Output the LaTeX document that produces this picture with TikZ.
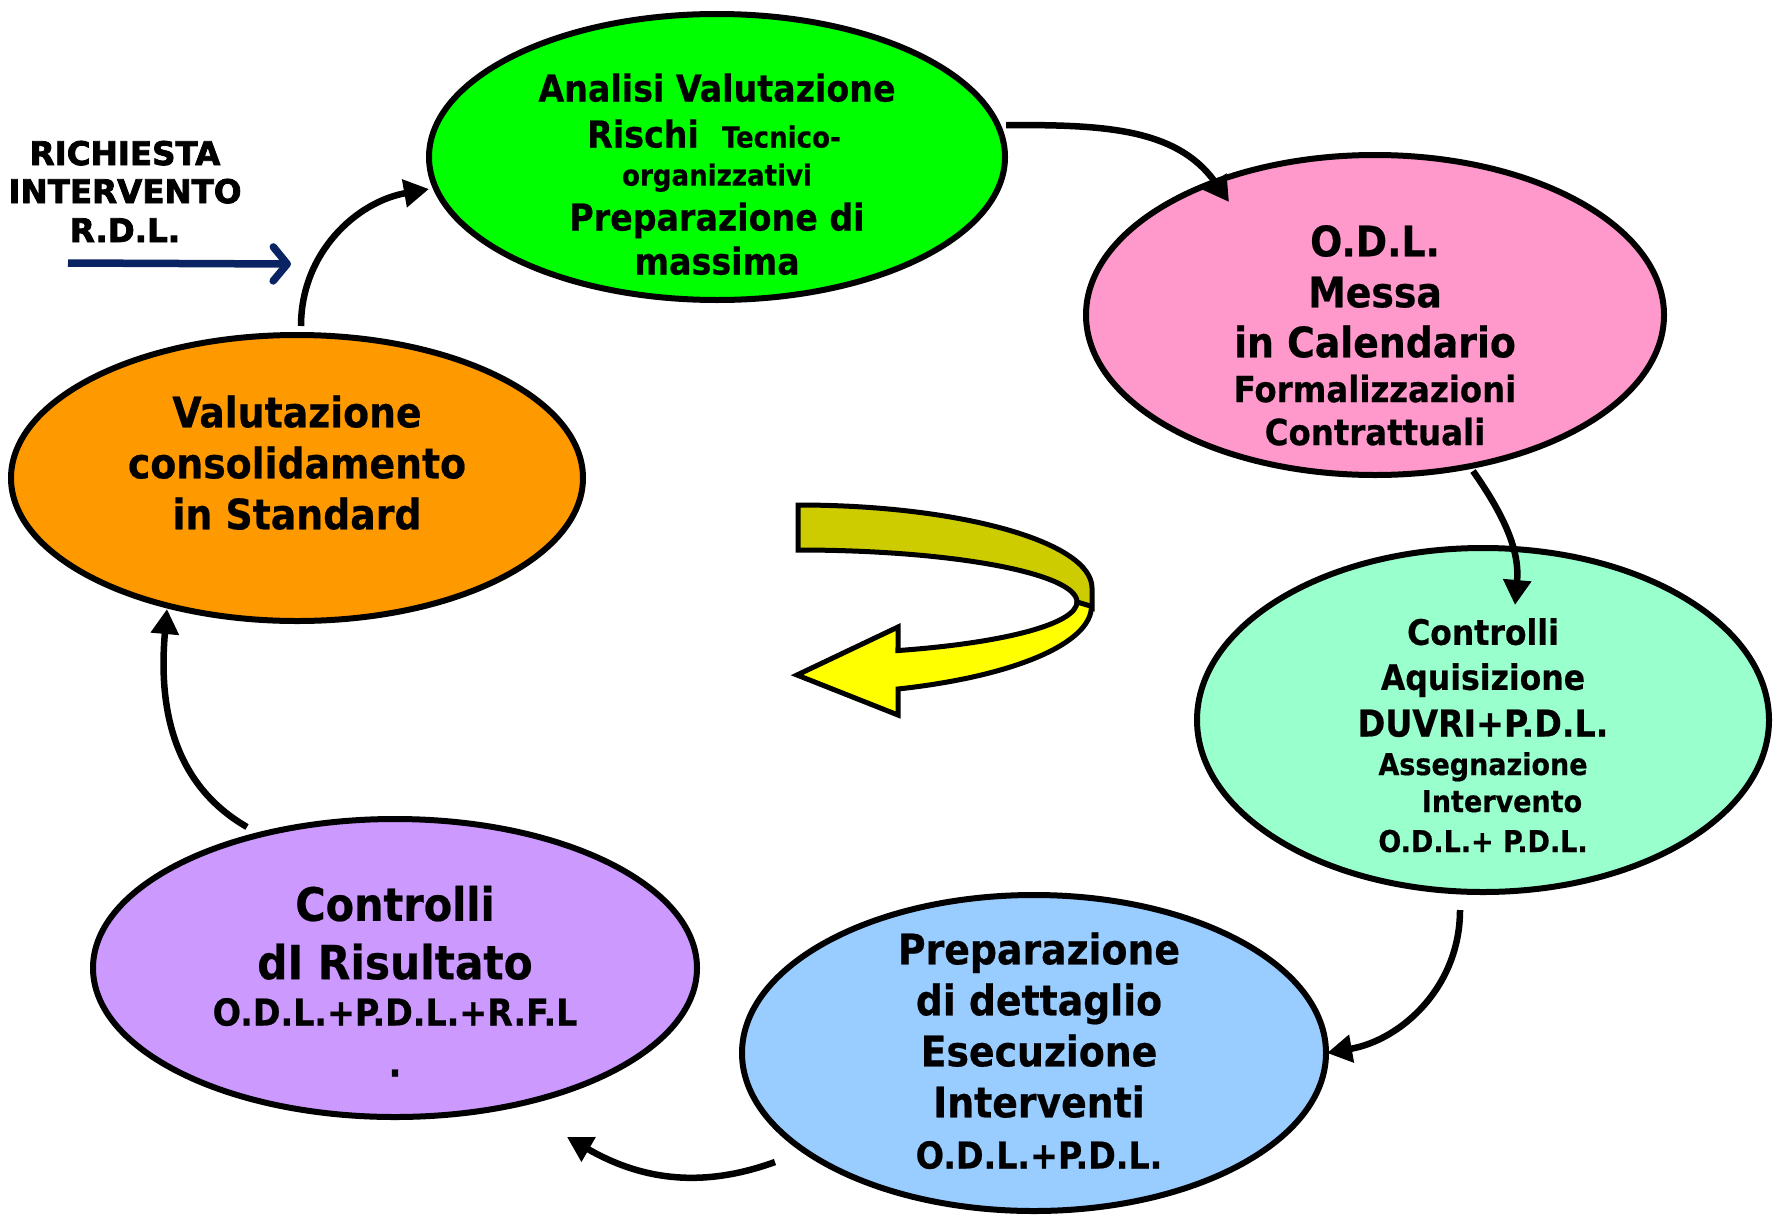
\documentclass[tikz,border=0pt]{standalone}
\usepackage{fontspec}
\setmainfont{DejaVu Sans Condensed}[BoldFont={DejaVu Sans Condensed Bold}, BoldFeatures={FakeBold=0.5}]
\newfontfamily\heavyfont{DejaVu Sans}[BoldFont={DejaVu Sans Bold}, BoldFeatures={FakeBold=2.5}]
\usetikzlibrary{shapes.geometric,arrows.meta,calc}

\definecolor{fasegreen}{HTML}{00FF00}
\definecolor{fasepink}{HTML}{FF99CC}
\definecolor{fasemint}{HTML}{99FFCC}
\definecolor{faseblue}{HTML}{99CCFF}
\definecolor{faseviolet}{HTML}{CC99FF}
\definecolor{faseorange}{HTML}{FF9900}
\definecolor{giroyellow}{HTML}{FFFF00}
\definecolor{giroolive}{HTML}{CCCC00}
\definecolor{rdlnavy}{HTML}{0A2463}

\tikzset{
  fase/.style={ellipse, draw, line width=6pt, inner sep=0pt},
  flusso/.style={line width=6.5pt, -{Triangle[length=25pt,width=27pt]}},
  riga/.style={anchor=base, inner sep=0pt, font=\bfseries\fontsize{#1}{#1}\selectfont},
  rdl/.style={anchor=base, inner sep=0pt, font=\heavyfont\bfseries\fontsize{32.5}{32.5}\selectfont},
}

\begin{document}
\begin{tikzpicture}[x=1pt, y=1pt]
  \useasboundingbox (0,0) rectangle (1779,-1215);

  % fasi del ciclo
  \node[fase, fill=fasegreen, minimum width=576pt, minimum height=286pt] (analisi) at (717,-157) {};
  \node[fase, fill=fasepink, minimum width=578pt, minimum height=320pt] (odl) at (1375,-315) {};
  \node[fase, fill=fasemint, minimum width=572pt, minimum height=344pt] (controlli) at (1483,-720) {};
  \node[fase, fill=faseblue, minimum width=584pt, minimum height=316pt] (esecuzione) at (1034,-1053) {};
  \node[fase, fill=faseviolet, minimum width=604pt, minimum height=298pt] (risultato) at (395,-968) {};
  \node[fase, fill=faseorange, minimum width=572pt, minimum height=286pt] (valut) at (297,-478) {};

  % testi
  \node[riga=37] (an1) at (717,-101.5) {Analisi Valutazione};
  \node[riga=37] (an2) at (714,-147.5) {Rischi~~{\fontsize{29}{29}\selectfont Tecnico-}};
  \node[riga=29] (an3) at (717,-185.6) {organizzativi};
  \node[riga=37] (an4) at (717,-230.5) {Preparazione di};
  \node[riga=37] (an5) at (717,-274.5) {massima};

  \node[riga=42] (od1) at (1375,-256.3) {O.D.L.};
  \node[riga=42] (od2) at (1375,-307.3) {Messa};
  \node[riga=42] (od3) at (1375,-357.3) {in Calendario};
  \node[riga=36] (od4) at (1375,-402.1) {Formalizzazioni};
  \node[riga=36] (od5) at (1375,-445.1) {Contrattuali};

  \node[riga=35] (co1) at (1483,-644.8) {Controlli};
  \node[riga=35] (co2) at (1483,-689.8) {Aquisizione};
  \node[riga=37] (co3) at (1483,-736.5) {DUVRI+P.D.L.};
  \node[riga=30] (co4) at (1483,-775) {Assegnazione};
  \node[riga=30] (co5) at (1502,-812) {Intervento};
  \node[riga=30] (co6) at (1483,-852) {O.D.L.+ P.D.L.};

  \node[riga=42] (es1) at (1039,-964.3) {Preparazione};
  \node[riga=42] (es2) at (1039,-1015.3) {di dettaglio};
  \node[riga=42] (es3) at (1039,-1066.3) {Esecuzione};
  \node[riga=42] (es4) at (1039,-1117.3) {Interventi};
  \node[riga=37] (es5) at (1039,-1168.5) {O.D.L.+P.D.L.};

  \node[riga=46] (ri1) at (395,-920.8) {Controlli};
  \node[riga=47] (ri2) at (395,-979.2) {dI Risultato};
  \node[riga=37] (ri3) at (395,-1025.5) {O.D.L.+P.D.L.+R.F.L};
  \node[riga=37] (ri4) at (395,-1076.5) {.};

  \node[riga=42] (va1) at (297,-427.3) {Valutazione};
  \node[riga=42] (va2) at (297,-478.3) {consolidamento};
  \node[riga=42] (va3) at (297,-529.3) {in Standard};

  % richiesta
  \node[rdl] (ric1) at (125,-165) {RICHIESTA};
  \node[rdl] (ric2) at (125,-203) {INTERVENTO};
  \node[rdl] (ric3) at (125,-242) {R.D.L.};
  \coordinate (rdlA) at (68,-263);
  \coordinate (rdlB) at (291,-264);
  \draw[rdlnavy, line width=7.5pt, -{Straight Barb[round,length=14pt,width=34pt]}] (rdlA) -- (rdlB);

  % frecce del ciclo
  \draw[flusso] ($(valut)+(4,152)$) to[out=90, in=190] ($(analisi)+(-288,-32)$);
  \draw[flusso] ($(analisi)+(289,32)$) to[out=0, in=125] ($(odl)+(-146,113)$);
  \draw[flusso] ($(odl)+(98,-156)$) to[out=-55, in=85] ($(controlli)+(32,115)$);
  \draw[flusso] ($(controlli)+(-23,-190)$) to[out=-90, in=10] ($(esecuzione)+(293,0)$);
  \draw[flusso] ($(esecuzione)+(-259,-109)$) to[out=200, in=-30] ($(risultato)+(172,-169)$);
  \draw[flusso] ($(risultato)+(-148,141)$) to[out=150, in=-95] ($(valut)+(-130,-131)$);

  % freccia gialla
  \filldraw[fill=giroolive, line width=5pt] (798,-505) arc[start angle=90, end angle=0, x radius=294, y radius=83]
    -- (1092,-608) -- (1077,-602) arc[start angle=0, end angle=90, x radius=279, y radius=52] -- cycle;
  \filldraw[fill=giroyellow, line width=5pt] (1077,-602) arc[start angle=0, end angle=-69, x radius=279, y radius=52]
    -- (898,-627) -- (797,-675) -- (898,-715) -- (898,-689)
    arc[start angle=-70, end angle=0, x radius=294, y radius=88] -- cycle;
\end{tikzpicture}
\end{document}
